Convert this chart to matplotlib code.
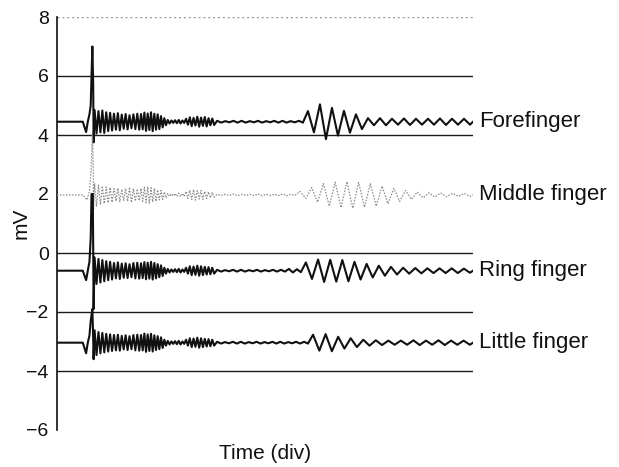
import numpy as np
import matplotlib
matplotlib.use("Agg")
import matplotlib.pyplot as plt

plt.rcParams["font.family"] = ["Liberation Sans", "DejaVu Sans"]

# ---------------------------------------------------------------- data (mV, time in div)
trace_names = ["Forefinger", "Middle finger", "Ring finger", "Little finger"]
reference_levels = [6, 4, 0, -2, -4]
top_level = 8
y_ticks = [8, 6, 4, 2, 0, -2, -4, -6]

# resting baselines
fore_base = 4.45
middle_base = 1.97
ring_base = -0.60
little_base = -3.04

# stimulus artefact around t = 0.85 div
fore_spike_t = [0.62, 0.70, 0.74, 0.78, 0.81, 0.83, 0.85, 0.87, 0.88]
fore_spike_v = [4.45, 4.10, 4.45, 4.70, 5.00, 6.00, 7.00, 5.70, 3.75]

middle_spike_t = [0.62, 0.72, 0.78, 0.82, 0.85, 0.87, 0.88]
middle_spike_v = [1.97, 1.80, 2.10, 2.80, 4.00, 3.00, 1.50]

ring_spike_t = [0.62, 0.70, 0.74, 0.78, 0.81, 0.83, 0.86, 0.87, 0.88]
ring_spike_v = [-0.60, -0.92, -0.60, -0.30, 0.50, 2.00, 2.00, 0.20, -1.90]

little_spike_t = [0.62, 0.70, 0.74, 0.78, 0.81, 0.85, 0.87, 0.88]
little_spike_v = [-3.04, -3.40, -3.04, -2.80, -2.30, -1.90, -2.90, -3.60]

# oscillation segments: (start div, end div, amplitude of each cycle in mV)
fore_segments = [
    (0.88, 2.00, [0.40, 0.36, 0.38, 0.32, 0.30, 0.27, 0.29, 0.24, 0.26, 0.22, 0.25, 0.27]),
    (2.00, 2.64, [0.26, 0.31, 0.28, 0.32, 0.27, 0.25, 0.19, 0.12]),
    (2.64, 3.08, [0.06, 0.04, 0.05, 0.06, 0.04]),
    (3.08, 3.80, [0.10, 0.15, 0.13, 0.17, 0.14, 0.16, 0.12, 0.11]),
    (3.80, 5.96, [0.03, 0.02, 0.03, 0.03, 0.02, 0.03, 0.02, 0.03, 0.03, 0.02, 0.03]),
    (5.96, 10.0, [0.36, 0.59, 0.47, 0.37, 0.25, 0.12, 0.12, 0.10, 0.11, 0.10, 0.10, 0.11, 0.10, 0.10]),
]

middle_segments = [
    (0.88, 2.00, [0.38, 0.33, 0.30, 0.27, 0.25, 0.21, 0.23, 0.19, 0.22, 0.26, 0.21, 0.20]),
    (2.00, 2.64, [0.22, 0.26, 0.28, 0.24, 0.22, 0.17, 0.15, 0.10]),
    (2.64, 3.08, [0.05, 0.04, 0.05, 0.06, 0.05]),
    (3.08, 3.80, [0.12, 0.16, 0.18, 0.14, 0.15, 0.12, 0.10, 0.08]),
    (3.80, 5.77, [0.02, 0.02, 0.03, 0.02, 0.02, 0.03, 0.02, 0.02, 0.03, 0.02]),
    (5.77, 10.0, [0.12, 0.25, 0.38, 0.43, 0.45, 0.42, 0.38, 0.30, 0.22, 0.15, 0.10, 0.07, 0.06, 0.05, 0.05]),
]

ring_segments = [
    (0.88, 2.00, [0.45, 0.40, 0.36, 0.32, 0.30, 0.26, 0.28, 0.24, 0.25, 0.22, 0.26, 0.27]),
    (2.00, 2.64, [0.25, 0.29, 0.27, 0.30, 0.26, 0.22, 0.18, 0.10]),
    (2.64, 3.08, [0.06, 0.04, 0.05, 0.06, 0.04]),
    (3.08, 3.80, [0.10, 0.15, 0.14, 0.17, 0.15, 0.13, 0.12, 0.10]),
    (3.80, 5.91, [0.03, 0.02, 0.03, 0.03, 0.02, 0.03, 0.02, 0.03, 0.03, 0.06, 0.05]),
    (5.91, 10.0, [0.28, 0.38, 0.37, 0.36, 0.30, 0.23, 0.17, 0.13, 0.10, 0.09, 0.08, 0.08, 0.08, 0.07]),
]

little_segments = [
    (0.88, 2.00, [0.42, 0.36, 0.33, 0.30, 0.28, 0.26, 0.27, 0.23, 0.25, 0.22, 0.26, 0.27]),
    (2.00, 2.64, [0.26, 0.31, 0.28, 0.30, 0.25, 0.22, 0.18, 0.10]),
    (2.64, 3.08, [0.06, 0.04, 0.05, 0.06, 0.04]),
    (3.08, 3.80, [0.10, 0.15, 0.14, 0.17, 0.15, 0.13, 0.12, 0.10]),
    (3.80, 6.08, [0.03, 0.02, 0.03, 0.03, 0.02, 0.03, 0.02, 0.03, 0.03, 0.02, 0.03, 0.03]),
    (6.08, 10.0, [0.27, 0.29, 0.20, 0.15, 0.10, 0.08, 0.07, 0.07, 0.08, 0.07, 0.08, 0.07, 0.07]),
]

t_start, t_end = 0.0, 10.0


def build_trace(base, spike_t, spike_v, segments):
    """Join the baseline, the artefact and the cycle-by-cycle peaks into one polyline."""
    t = [t_start] + list(spike_t)
    v = [base] + list(spike_v)
    for t0, t1, amps in segments:
        n = 2 * len(amps)
        h = (t1 - t0) / n
        for k, a in enumerate(amps):
            t.append(t0 + (2 * k + 0.5) * h)
            v.append(base + a)
            t.append(t0 + (2 * k + 1.5) * h)
            v.append(base - a)
    t.append(t_end)
    v.append(base)
    return np.array(t), np.array(v)


# ---------------------------------------------------------------- figure
fig = plt.figure(figsize=(6.19, 4.67), dpi=100)
ax = fig.add_axes([57 / 619, 1 - 430 / 467, (473 - 57) / 619, (430 - 17) / 467])

for lvl in reference_levels:
    ax.axhline(lvl, color="#1a1a1a", lw=1.0, zorder=1)
ax.axhline(top_level, color="0.6", lw=1.0, ls=(0, (1.5, 2)), zorder=1)

traces = [
    (fore_base, fore_spike_t, fore_spike_v, fore_segments, dict(color="#111111", lw=1.5)),
    (middle_base, middle_spike_t, middle_spike_v, middle_segments,
     dict(color="0.55", lw=0.9, ls=(0, (1.2, 1.2)))),
    (ring_base, ring_spike_t, ring_spike_v, ring_segments, dict(color="#111111", lw=1.5)),
    (little_base, little_spike_t, little_spike_v, little_segments, dict(color="#111111", lw=1.5)),
]

for name, (base, st, sv, segs, style) in zip(trace_names, traces):
    t, v = build_trace(base, st, sv, segs)
    ax.plot(t, v, zorder=3, solid_joinstyle="round", **style)
    ax.annotate(name, xy=(t_end, base), xytext=(4.5, 0), textcoords="offset points",
                ha="left", va="center", fontsize=16, color="#111111",
                annotation_clip=False)

ax.set_xlim(t_start, t_end)
ax.set_ylim(-6, 8)
ax.set_yticks(y_ticks)
ax.set_xticks([])
ax.tick_params(axis="y", length=0, pad=6, labelsize=14, colors="#111111")

for side in ["top", "right", "bottom"]:
    ax.spines[side].set_visible(False)
ax.spines["left"].set_color("#111111")
ax.spines["left"].set_linewidth(1.2)

ax.set_xlabel("Time (div)", fontsize=15, color="#111111", labelpad=10)
ax.set_ylabel("mV", fontsize=15, color="#111111", labelpad=-3)

fig.savefig("out.png", dpi=100)
